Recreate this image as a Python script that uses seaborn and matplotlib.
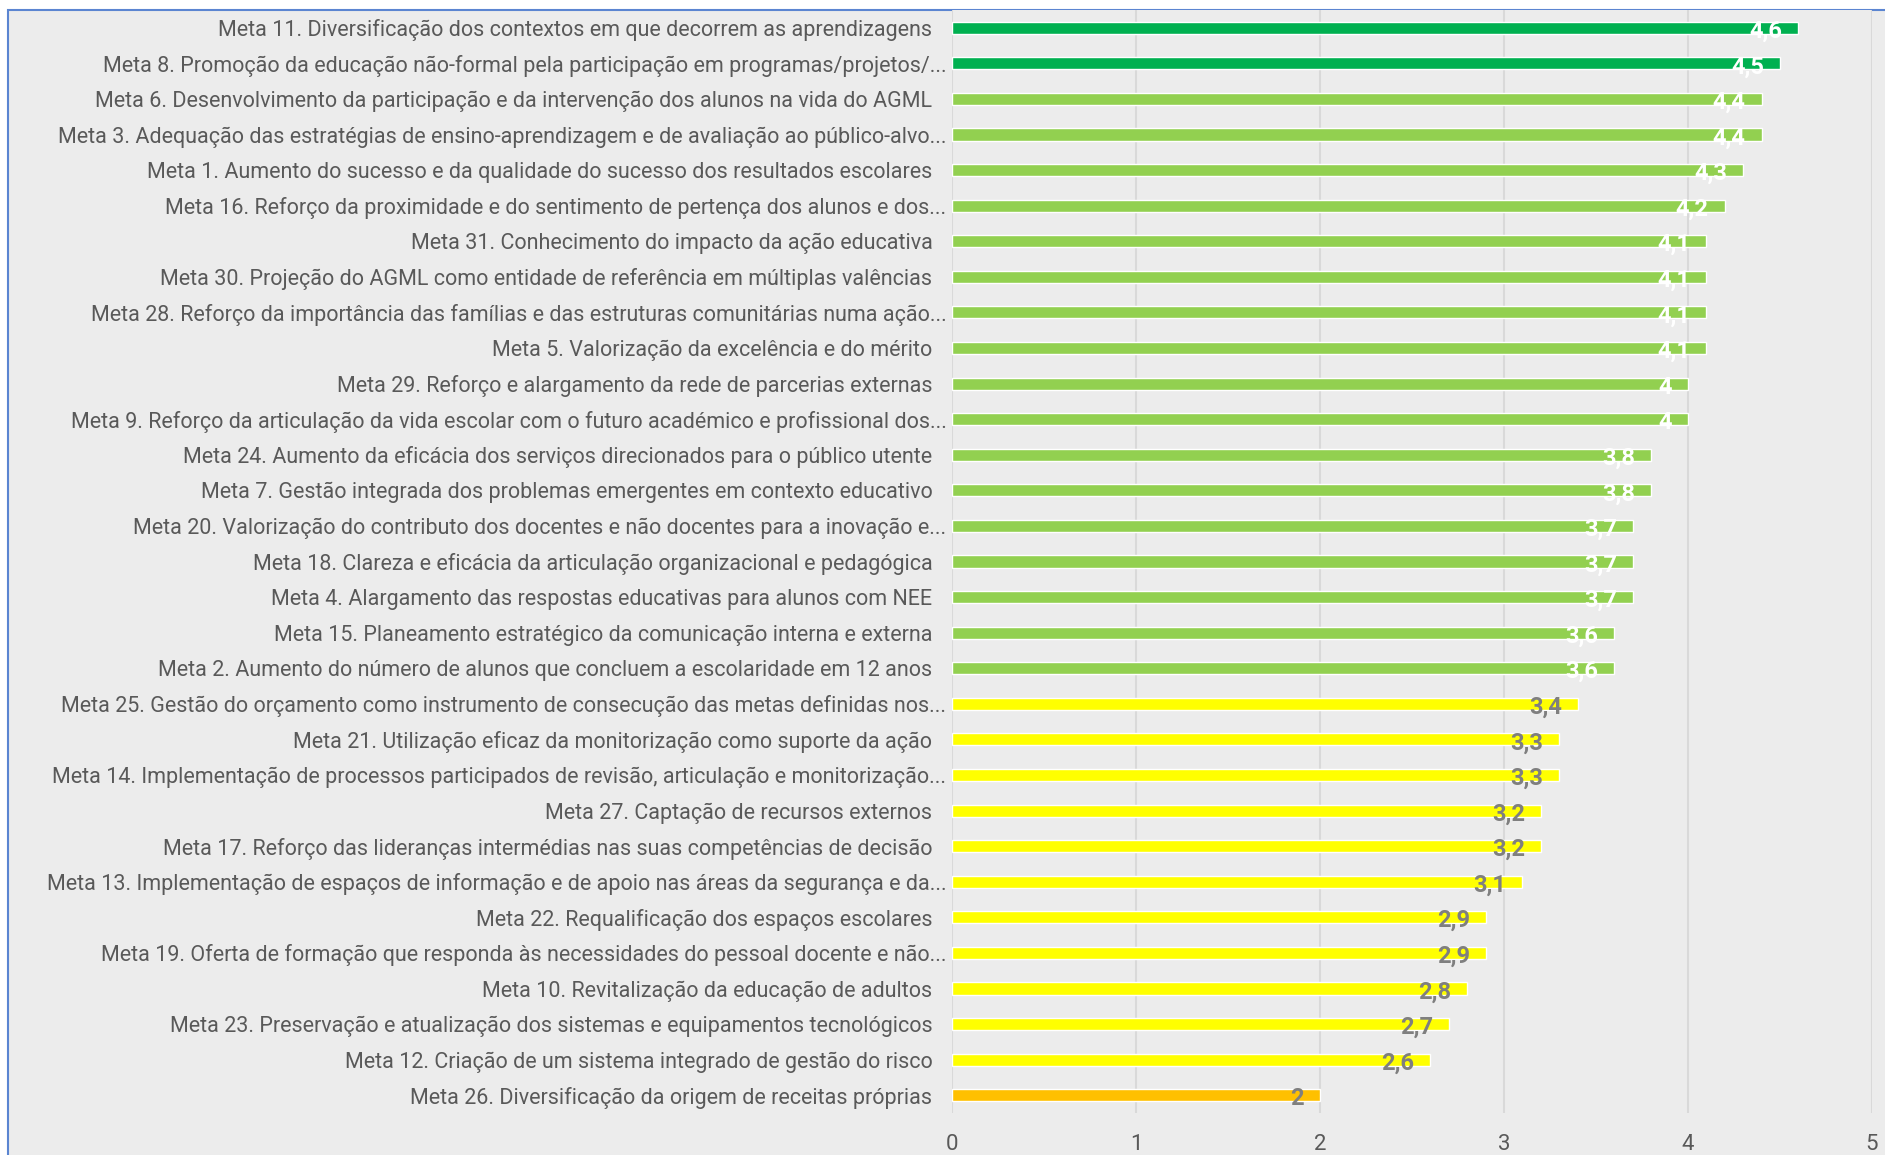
import matplotlib
matplotlib.use("Agg")
import matplotlib.pyplot as plt
from matplotlib.patches import Rectangle
from matplotlib.transforms import ScaledTranslation
import seaborn as sns
import pandas as pd

labels = [
    "Meta 11. Diversificação dos contextos em que decorrem as aprendizagens",
    "Meta 8. Promoção da educação não-formal pela participação em programas/projetos/...",
    "Meta 6. Desenvolvimento da participação e da intervenção dos alunos na vida do AGML",
    "Meta 3. Adequação das estratégias de ensino-aprendizagem e de avaliação ao público-alvo...",
    "Meta 1. Aumento do sucesso e da qualidade do sucesso dos resultados escolares",
    "Meta 16. Reforço da proximidade e do sentimento de pertença dos alunos e dos...",
    "Meta 31. Conhecimento do impacto da ação educativa",
    "Meta 30. Projeção do AGML como entidade de referência em múltiplas valências",
    "Meta 28. Reforço da importância das famílias e das estruturas comunitárias numa ação...",
    "Meta 5. Valorização da excelência e do mérito",
    "Meta 29. Reforço e alargamento da rede de parcerias externas",
    "Meta 9. Reforço da articulação da vida escolar com o futuro académico e profissional dos...",
    "Meta 24. Aumento da eficácia dos serviços direcionados para o público utente",
    "Meta 7. Gestão integrada dos problemas emergentes em contexto educativo",
    "Meta 20. Valorização do contributo dos docentes e não docentes para a inovação e...",
    "Meta 18. Clareza e eficácia da articulação organizacional e pedagógica",
    "Meta 4. Alargamento das respostas educativas para alunos com NEE",
    "Meta 15. Planeamento estratégico da comunicação interna e externa",
    "Meta 2. Aumento do número de alunos que concluem a escolaridade em 12 anos",
    "Meta 25. Gestão do orçamento como instrumento de consecução das metas definidas nos...",
    "Meta 21. Utilização eficaz da monitorização como suporte da ação",
    "Meta 14. Implementação de processos participados de revisão, articulação e monitorização...",
    "Meta 27. Captação de recursos externos",
    "Meta 17. Reforço das lideranças intermédias nas suas competências de decisão",
    "Meta 13. Implementação de espaços de informação e de apoio nas áreas da segurança e da...",
    "Meta 22. Requalificação dos espaços escolares",
    "Meta 19. Oferta de formação que responda às necessidades do pessoal docente e não...",
    "Meta 10. Revitalização da educação de adultos",
    "Meta 23. Preservação e atualização dos sistemas e equipamentos tecnológicos",
    "Meta 12. Criação de um sistema integrado de gestão do risco",
    "Meta 26. Diversificação da origem de receitas próprias",
]
values = [4.6, 4.5, 4.4, 4.4, 4.3, 4.2, 4.1, 4.1, 4.1, 4.1, 4.0, 4.0, 3.8, 3.8,
          3.7, 3.7, 3.7, 3.6, 3.6, 3.4, 3.3, 3.3, 3.2, 3.2, 3.1, 2.9, 2.9, 2.8,
          2.7, 2.6, 2.0]
levels = (["top"] * 2 + ["high"] * 17 + ["mid"] * 11 + ["low"])

palette = {"top": "#00B050", "high": "#92D050", "mid": "#FFFF00", "low": "#FFC000"}
label_colors = {"top": "white", "high": "white", "mid": "#7F7F7F", "low": "#7F7F7F"}

df = pd.DataFrame({"label": labels, "value": values, "level": levels})

sns.set_theme(style="white")
FONT = ["Roboto", "DejaVu Sans"]
plt.rcParams["font.family"] = FONT

W, H = 1885, 1155
fig = plt.figure(figsize=(W / 100, H / 100), dpi=100, facecolor="white")
panel = Rectangle((8 / W, -0.05), 1.2, 1 - 10 / H + 0.05, transform=fig.transFigure,
                  facecolor="#ECECEC", edgecolor="#5B85D1", linewidth=1.5, zorder=-10)
fig.patches.append(panel)

ax = fig.add_axes([952 / W, 1 - 1113 / H, (1872 - 952) / W, (1113 - 10) / H])
ax.set_zorder(1)
ax.set_facecolor("#ECECEC")

sns.barplot(data=df, x="value", y="label", hue="level", palette=palette,
            dodge=False, width=0.34, legend=False, ax=ax, saturation=1, zorder=3)

ax.set_xlim(0, 5)
ax.set_ylim(len(labels) - 0.5, -0.5)
ax.set_xticks(range(6))
ax.grid(axis="x", color="#D9D9D9", linewidth=1.5, zorder=0)
ax.grid(axis="y", visible=False)
ax.set_axisbelow(True)
for s in ax.spines.values():
    s.set_visible(False)
ax.set_xlabel("")
ax.set_ylabel("")
ax.tick_params(axis="y", length=0, pad=4, labelsize=15.5, labelcolor="#595959")
ax.tick_params(axis="x", length=0, pad=15, labelsize=16, labelcolor="#595959")

# Complete labels keep a trailing gap before the axis; truncated ones ("...") do not
shift = ScaledTranslation(-0.14, 0, fig.dpi_scale_trans)
for t in ax.get_yticklabels():
    if not t.get_text().endswith("..."):
        t.set_transform(t.get_transform() + shift)

for patch in ax.patches:
    w = patch.get_width()
    if w <= 0:
        continue
    yc = patch.get_y() + patch.get_height() / 2
    idx = int(round(yc))
    lvl = levels[idx]
    txt = f"{values[idx]:g}".replace(".", ",")
    ax.annotate(txt, xy=(w, yc), xytext=(-11.5, -2.5), textcoords="offset points",
                ha="right", va="center", fontsize=17, fontweight="bold",
                color=label_colors[lvl], zorder=5)

fig.savefig("out.png", dpi=100, facecolor="white")
